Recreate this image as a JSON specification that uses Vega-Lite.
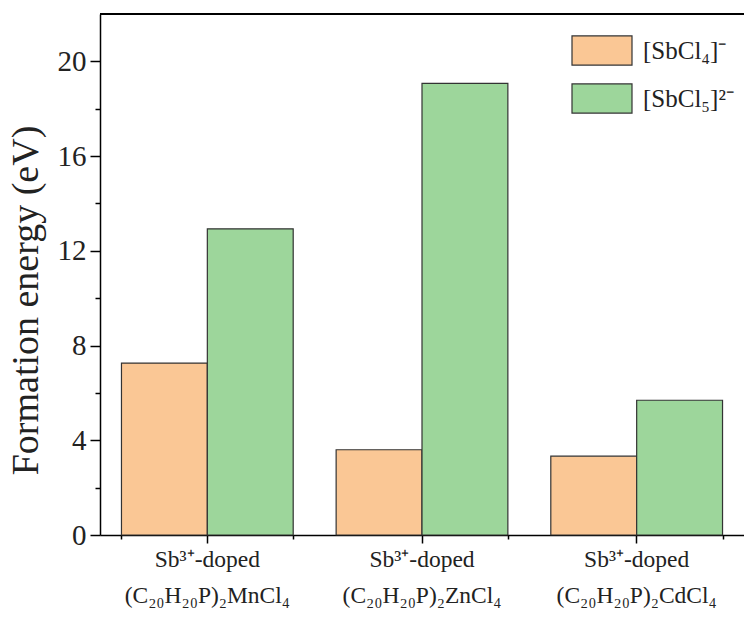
{
  "$schema": "https://vega.github.io/schema/vega-lite/v6.json",
  "width": 644,
  "height": 521,
  "autosize": {"type": "none"},
  "padding": {"left": 100, "top": 14, "right": 0, "bottom": 90},
  "background": "white",
  "config": {
    "view": {"stroke": null},
    "font": "Liberation Serif",
    "axis": {"labelFont": "Liberation Serif", "titleFont": "Liberation Serif", "labelColor": "#222", "titleColor": "#222", "domainColor": "#000", "tickColor": "#000", "domainWidth": 1.5, "tickWidth": 1.5, "grid": false},
    "legend": {"labelFont": "Liberation Serif"}
  },
  "data": {
    "values": [
      {"host": "Mn", "species": "[SbCl₄]⁻", "energy": 7.26},
      {"host": "Mn", "species": "[SbCl₅]²⁻", "energy": 12.93},
      {"host": "Zn", "species": "[SbCl₄]⁻", "energy": 3.60},
      {"host": "Zn", "species": "[SbCl₅]²⁻", "energy": 19.07},
      {"host": "Cd", "species": "[SbCl₄]⁻", "energy": 3.33},
      {"host": "Cd", "species": "[SbCl₅]²⁻", "energy": 5.69}
    ]
  },
  "layer": [
    {
      "mark": {"type": "bar", "stroke": "#333", "strokeWidth": 1.2},
      "encoding": {
        "x": {
          "field": "host", "type": "nominal", "sort": ["Mn", "Zn", "Cd"],
          "scale": {"paddingInner": 0.2, "paddingOuter": 0.1},
          "axis": {
            "title": null, "labelAngle": 0, "labelFont": "Liberation Serif", "labelFontSize": 23.5, "tickSize": 8, "labelPadding": 4,
            "labelLineHeight": 36, "labelBaseline": "top",
            "labelExpr": "['Sb³⁺-doped', '(C₂₀H₂₀P)₂' + datum.value + 'Cl₄']"
          }
        },
        "xOffset": {"field": "species", "type": "nominal", "scale": {"paddingInner": 0, "paddingOuter": 0}},
        "y": {
          "field": "energy", "type": "quantitative",
          "scale": {"domain": [0, 22], "nice": false},
          "axis": {
            "title": "Formation energy (eV)", "titleFontSize": 38, "titleFontWeight": "normal", "titlePadding": 12, "titleY": 286,
            "labelFont": "Liberation Serif", "labelFontSize": 29, "values": [0, 2, 4, 6, 8, 10, 12, 14, 16, 18, 20],
            "labelExpr": "datum.value % 4 === 0 ? datum.label : ''",
            "tickSize": {"condition": {"test": "datum.value % 4 === 0", "value": 10}, "value": 5},
            "labelPadding": 4
          }
        },
        "color": {
          "field": "species", "type": "nominal",
          "scale": {"range": ["#FAC795", "#9DD69B"]},
          "legend": {
            "title": null, "orient": "none", "legendX": 486, "legendY": 20.5,
            "symbolType": "M-2,-0.97H2V0.97H-2Z", "symbolSize": 900,
            "symbolStrokeColor": "#333", "symbolStrokeWidth": 1.2, "symbolOpacity": 1,
            "labelFont": "Liberation Serif", "labelFontSize": 25, "labelOffset": 25, "rowPadding": 14, "labelColor": "#222"
          }
        }
      }
    },
    {
      "mark": {"type": "bar", "opacity": 0},
      "encoding": {
        "x": {
          "field": "host", "type": "nominal", "sort": ["Mn", "Zn", "Cd"],
          "axis": {"orient": "bottom", "title": null, "labels": false, "domain": false, "tickBand": "extent", "tickSize": 4}
        },
        "y": {"field": "energy", "type": "quantitative"}
      }
    },
    {
      "mark": {"type": "rule", "color": "#000", "strokeWidth": 1.5},
      "encoding": {"y": {"datum": 22}}
    }
  ],
  "resolve": {"axis": {"x": "independent"}}
}
